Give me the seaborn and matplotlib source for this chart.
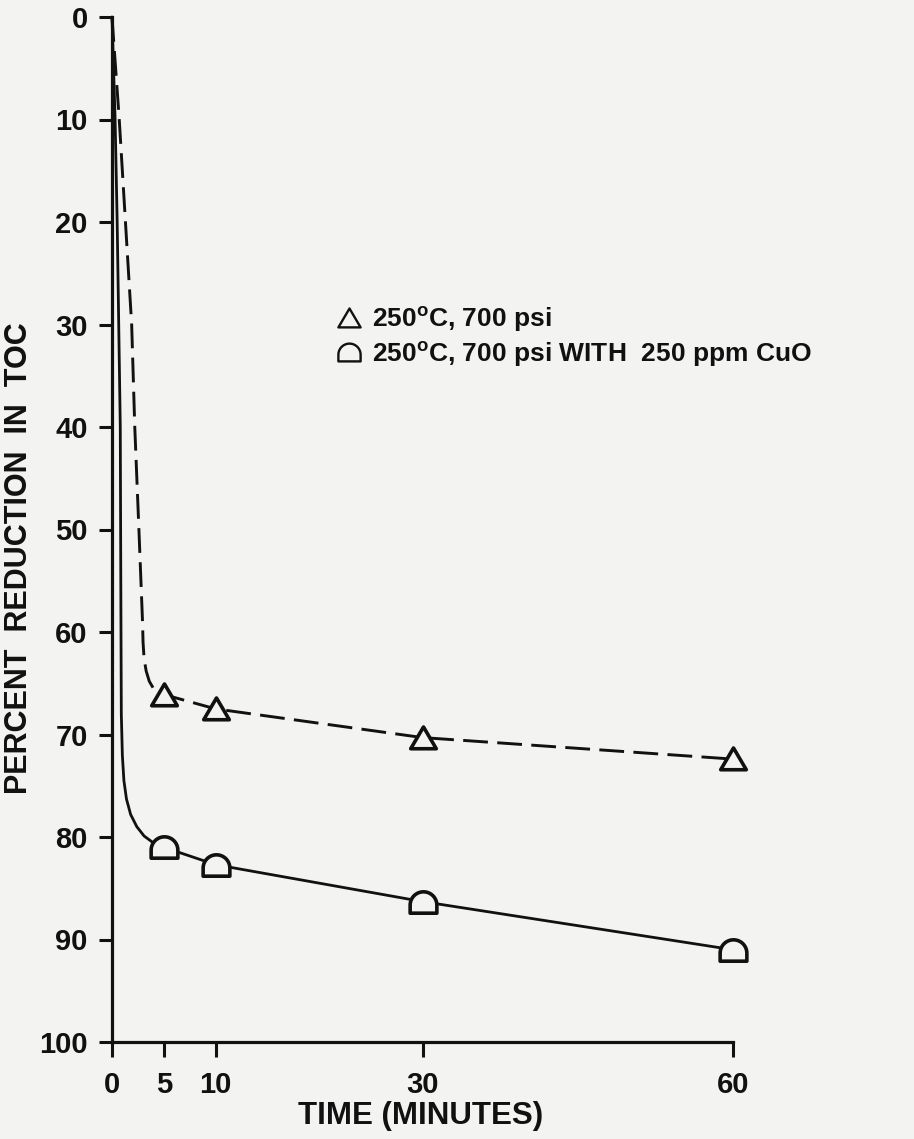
import numpy as np
import pandas as pd
import matplotlib
matplotlib.use("Agg")
import matplotlib.pyplot as plt
from matplotlib.path import Path
from matplotlib.lines import Line2D
import seaborn as sns

# ---------------- data ----------------
time_min = [5, 10, 30, 60]
toc_no_cat = [66.1, 67.5, 70.3, 72.4]        # 250C, 700 psi (triangles, dashed)
toc_cuo = [81.0, 82.7, 86.3, 91.0]           # 250C, 700 psi with 250 ppm CuO (arches, solid)

# hand-drawn lead-in of the curves from the origin
lead_x_no_cat = [0, 0.7, 1.3, 1.9, 2.2, 2.6, 2.95, 3.0, 3.1, 3.3, 3.6, 4.0, 4.5]
lead_y_no_cat = [0, 10, 20, 30, 40, 50, 59, 61.0, 62.6, 63.8, 64.8, 65.5, 65.9]
lead_x_cuo = [0, 0.3, 0.5, 0.65, 0.8, 0.85, 0.9, 1.0, 1.15, 1.4, 1.8, 2.4, 3.1, 3.9]
lead_y_cuo = [0, 10, 20, 30, 40, 55, 68, 72, 74.5, 76.3, 77.8, 79.0, 79.9, 80.5]

x_ticks = [0, 5, 10, 30, 60]
y_ticks = [0, 10, 20, 30, 40, 50, 60, 70, 80, 90, 100]

legend_labels = ["250$^{\\mathrm{o}}$C, 700 psi",
                 "250$^{\\mathrm{o}}$C, 700 psi WITH  250 ppm CuO"]

# ---------------- style ----------------
sns.set_style("ticks")
plt.rcParams["font.family"] = ["Liberation Sans", "DejaVu Sans"]
plt.rcParams["font.weight"] = "bold"
plt.rcParams["mathtext.fontset"] = "custom"
plt.rcParams["mathtext.rm"] = "Liberation Sans:bold"
plt.rcParams["mathtext.bf"] = "Liberation Sans:bold"
plt.rcParams["mathtext.it"] = "Liberation Sans:bold"

BG = "#f3f3f1"
INK = "#111111"

W, H = 914, 1139
fig = plt.figure(figsize=(W / 100, H / 100), dpi=100, facecolor=BG)
left, right, top, bottom = 112, 733, 17, 1042
ax = fig.add_axes([left / W, 1 - bottom / H, (right - left) / W, (bottom - top) / H])
ax.set_facecolor(BG)

# markers
tri = Path([(-1, -0.8), (1, -0.8), (0, 0.9), (-1, -0.8)],
           [Path.MOVETO, Path.LINETO, Path.LINETO, Path.CLOSEPOLY])
theta = np.linspace(0, np.pi, 30)
arc = [(np.cos(t), -0.2 + np.sin(t)) for t in theta]
arch_verts = [(1, -0.8)] + arc + [(-1, -0.8), (1, -0.8)]
arch = Path(arch_verts, [Path.MOVETO] + [Path.LINETO] * (len(arch_verts) - 2) + [Path.CLOSEPOLY])

# curves
df_nc = pd.DataFrame({"t": lead_x_no_cat + time_min, "v": lead_y_no_cat + toc_no_cat})
df_cu = pd.DataFrame({"t": lead_x_cuo + time_min, "v": lead_y_cuo + toc_cuo})
sns.lineplot(data=df_nc, x="t", y="v", sort=False, estimator=None, ax=ax,
             color=INK, lw=2.1, linestyle=(0, (8.5, 3.2)), clip_on=False)
sns.lineplot(data=df_cu, x="t", y="v", sort=False, estimator=None, ax=ax,
             color=INK, lw=2.0, clip_on=False)

# data markers
sns.scatterplot(x=time_min, y=toc_no_cat, marker=tri, s=340, facecolor=BG,
                edgecolor=INK, linewidth=2.6, ax=ax, zorder=5, clip_on=False)
sns.scatterplot(x=time_min, y=toc_cuo, marker=arch, s=370, facecolor=BG,
                edgecolor=INK, linewidth=2.6, ax=ax, zorder=5, clip_on=False)

# axes
ax.set_xlim(0, 60)
ax.set_ylim(100, 0)
ax.set_xticks(x_ticks)
ax.set_yticks(y_ticks)
ax.set_xticklabels([str(v) for v in x_ticks])
ax.set_yticklabels([str(v) for v in y_ticks])
for s in ["top", "right"]:
    ax.spines[s].set_visible(False)
for s in ["left", "bottom"]:
    ax.spines[s].set_linewidth(2.3)
    ax.spines[s].set_color(INK)
ax.tick_params(axis="y", direction="out", length=9.5, width=2.2, pad=8,
               labelsize=21, colors=INK)
ax.tick_params(axis="x", direction="out", length=11, width=2.2, pad=10,
               labelsize=21, colors=INK)
for lab in ax.get_xticklabels() + ax.get_yticklabels():
    lab.set_fontweight("bold")

ax.set_xlabel("TIME (MINUTES)", fontsize=22.5, fontweight="bold", color=INK)
ax.set_ylabel("PERCENT  REDUCTION  IN  TOC", fontsize=22, fontweight="bold", color=INK)
ax.xaxis.set_label_coords(0.497, -0.058)
ax.yaxis.set_label_coords(-0.125, 0.472)

# legend
handles = [
    Line2D([], [], marker=tri, ls="none", mfc="none", mec=INK, mew=1.7, ms=16),
    Line2D([], [], marker=arch, ls="none", mfc="none", mec=INK, mew=1.7, ms=16),
]
leg = ax.legend(handles, legend_labels, loc="center left",
                bbox_to_anchor=(336 / W, 1 - 337 / H), bbox_transform=fig.transFigure,
                frameon=False, fontsize=19, handletextpad=0.35, labelspacing=0.22,
                borderpad=0, handlelength=1.0, borderaxespad=0)
for t in leg.get_texts():
    t.set_color(INK)
    t.set_fontweight("bold")

fig.savefig("out.png", dpi=100, facecolor=BG)
